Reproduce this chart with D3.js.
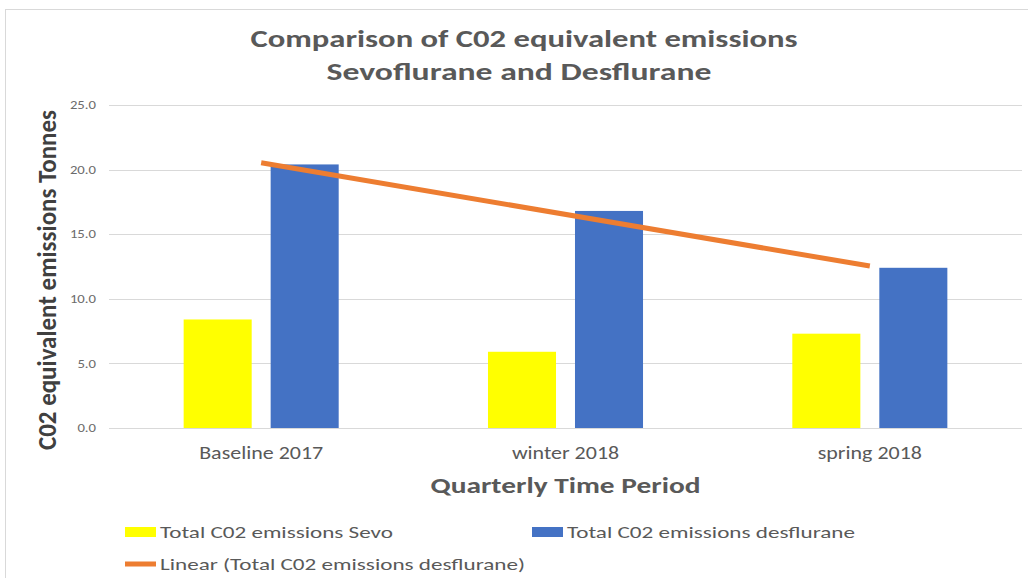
<!DOCTYPE html>
<html>
<head>
<meta charset="utf-8">
<script src="https://cdn.jsdelivr.net/npm/d3@7"></script>
<style>
  body { margin: 0; background: #fff; }
  svg { display: block; }
</style>
</head>
<body>
<div id="chart"></div>
<script>
// data
var categories = ["Baseline 2017", "winter 2018", "spring 2018"];
var seriesNames = ["Total C02 emissions Sevo", "Total C02 emissions desflurane"];
var sevo = [8.4, 5.9, 7.3];
var desflurane = [20.4, 16.8, 12.4];
var yTicks = [0, 5, 10, 15, 20, 25];
var trendName = "Linear (Total C02 emissions desflurane)";

var width = 1028, height = 578;
var font = "Calibri, Carlito, 'Open Sans', sans-serif";
var colors = {sevo: "#FFFF00", des: "#4472C4", trend: "#ED7D31"};

// the reference text is drawn wide, so stretch text horizontally
function fitWidth(sel, w) {
  sel.attr("textLength", w).attr("lengthAdjust", "spacingAndGlyphs");
}
function stretch(sel, k) {
  sel.each(function() {
    var len = this.getComputedTextLength();
    d3.select(this).attr("textLength", len * k).attr("lengthAdjust", "spacingAndGlyphs");
  });
}

var svg = d3.select("#chart").append("svg")
  .attr("width", width)
  .attr("height", height)
  .style("font-family", font);

// chart border
svg.append("rect")
  .attr("x", 5.5).attr("y", 9.5)
  .attr("width", 1040).attr("height", 600)
  .attr("fill", "#fff")
  .attr("stroke", "#D9D9D9")
  .attr("stroke-width", 1);

// plot area
var plotLeft = 109, plotRight = 1022, plotTop = 105, plotBottom = 428;

var x0 = d3.scaleBand()
  .domain(categories)
  .range([plotLeft, plotRight])
  .padding(0);

var x1 = d3.scaleBand()
  .domain(["sevo", "des"])
  .range([0, x0.bandwidth()])
  .paddingInner(0.218)
  .paddingOuter(0.858);

var y = d3.scaleLinear()
  .domain([0, 25])
  .range([plotBottom, plotTop]);

// gridlines
svg.append("g")
  .attr("class", "grid")
  .selectAll("line")
  .data(yTicks)
  .enter().append("line")
  .attr("x1", plotLeft).attr("x2", plotRight)
  .attr("y1", function(d) { return Math.round(y(d)) + 0.5; })
  .attr("y2", function(d) { return Math.round(y(d)) + 0.5; })
  .attr("stroke", "#D9D9D9")
  .attr("stroke-width", 1);

// y axis labels
var yAxis = svg.append("g")
  .attr("transform", "translate(96,0)")
  .call(d3.axisLeft(y).tickValues(yTicks).tickFormat(d3.format(".1f")).tickSize(0));
yAxis.select(".domain").remove();
yAxis.selectAll("text")
  .attr("x", 0)
  .style("font-family", font)
  .style("font-size", "11.5px")
  .attr("fill", "#6b6b6b")
  .call(stretch, 1.28);

// bars
var rows = categories.map(function(c, i) {
  return {cat: c, values: [{key: "sevo", value: sevo[i]}, {key: "des", value: desflurane[i]}]};
});

var group = svg.selectAll(".cat")
  .data(rows)
  .enter().append("g")
  .attr("class", "cat")
  .attr("transform", function(d) { return "translate(" + x0(d.cat) + ",0)"; });

group.selectAll("rect")
  .data(function(d) { return d.values; })
  .enter().append("rect")
  .attr("x", function(d) { return x1(d.key); })
  .attr("width", x1.bandwidth())
  .attr("y", function(d) { return y(d.value); })
  .attr("height", function(d) { return y(0) - y(d.value); })
  .attr("fill", function(d) { return colors[d.key]; });

// linear trendline for desflurane (least squares over category index)
var n = desflurane.length;
var xs = d3.range(n);
var mx = d3.mean(xs), my = d3.mean(desflurane);
var slope = d3.sum(xs, function(i) { return (i - mx) * (desflurane[i] - my); }) /
            d3.sum(xs, function(i) { return (i - mx) * (i - mx); });
var intercept = my - slope * mx;
var trend = [0, n - 1].map(function(i) {
  return {cat: categories[i], value: intercept + slope * i};
});

svg.append("path")
  .datum(trend)
  .attr("fill", "none")
  .attr("stroke", colors.trend)
  .attr("stroke-width", 5)
  .attr("d", d3.line()
    .x(function(d) { return x0(d.cat) + x0.bandwidth() / 2; })
    .y(function(d) { return y(d.value); }));

// x axis labels
var xAxis = svg.append("g")
  .attr("transform", "translate(0," + plotBottom + ")")
  .call(d3.axisBottom(x0).tickSize(0));
xAxis.select(".domain").remove();
xAxis.selectAll("text")
  .attr("y", 31)
  .attr("dy", 0)
  .style("font-family", font)
  .style("font-size", "18px")
  .attr("fill", "#595959")
  .call(stretch, 1.22);

// titles
svg.append("text")
  .attr("x", 524).attr("y", 47)
  .attr("text-anchor", "middle")
  .style("font-size", "25px")
  .style("font-weight", "bold")
  .attr("fill", "#595959")
  .text("Comparison of C02 equivalent emissions")
  .call(fitWidth, 547);

svg.append("text")
  .attr("x", 519).attr("y", 80)
  .attr("text-anchor", "middle")
  .style("font-size", "25px")
  .style("font-weight", "bold")
  .attr("fill", "#595959")
  .text("Sevoflurane and Desflurane")
  .call(fitWidth, 385);

svg.append("text")
  .attr("transform", "translate(56,280) rotate(-90)")
  .attr("text-anchor", "middle")
  .style("font-size", "26px")
  .style("font-weight", "bold")
  .attr("fill", "#404040")
  .text("C02 equivalent emissions Tonnes")
  .call(fitWidth, 340);

svg.append("text")
  .attr("x", (plotLeft + plotRight) / 2).attr("y", 493)
  .attr("text-anchor", "middle")
  .style("font-size", "23px")
  .style("font-weight", "bold")
  .attr("fill", "#595959")
  .text("Quarterly Time Period")
  .call(fitWidth, 270);

// legend
var legendItems = [
  {name: seriesNames[0], type: "rect", color: colors.sevo, x: 125, y: 532, w: 233},
  {name: seriesNames[1], type: "rect", color: colors.des, x: 532, y: 532, w: 288},
  {name: trendName, type: "line", color: colors.trend, x: 125, y: 564, w: 365}
];

var legend = svg.selectAll(".legend")
  .data(legendItems)
  .enter().append("g")
  .attr("class", "legend")
  .attr("transform", function(d) { return "translate(" + d.x + "," + d.y + ")"; });

legend.append("rect")
  .attr("x", 0)
  .attr("y", function(d) { return d.type == "rect" ? -5 : -2.5; })
  .attr("width", 31)
  .attr("height", function(d) { return d.type == "rect" ? 10 : 5; })
  .attr("fill", function(d) { return d.color; });

legend.append("text")
  .attr("x", 35)
  .attr("y", 6)
  .style("font-size", "17px")
  .attr("fill", "#595959")
  .text(function(d) { return d.name; })
  .each(function(d) { d3.select(this).call(fitWidth, d.w); });
</script>
</body>
</html>
